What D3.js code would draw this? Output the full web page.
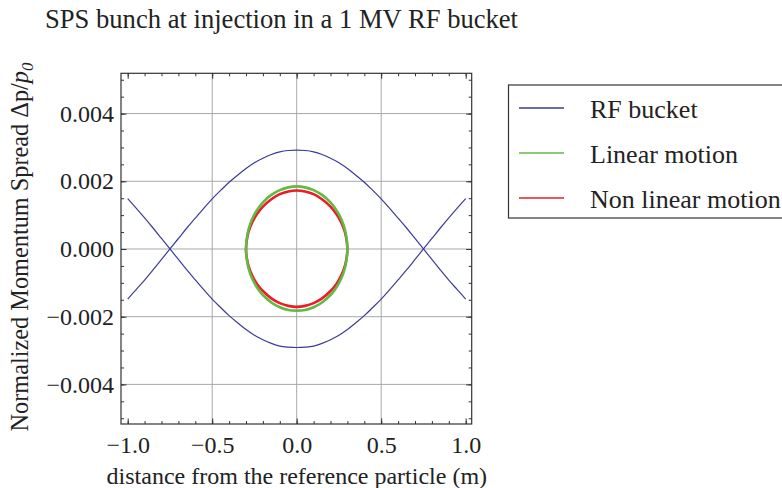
<!DOCTYPE html>
<html>
<head>
<meta charset="utf-8">
<script src="https://cdn.jsdelivr.net/npm/d3@7"></script>
<style>
  html, body { margin: 0; padding: 0; background: #fff; }
  svg { display: block; }
  text { font-family: "Liberation Serif", "Times New Roman", serif; fill: #222; }
</style>
</head>
<body>
<svg id="chart" width="782" height="488"></svg>
<script>
// ---------- data ----------
const titleText = "SPS bunch at injection in a 1 MV RF bucket";
const xLabelText = "distance from the reference particle (m)";

// RF bucket separatrix, sampled at these distances (m)
const bucketX = [-1.00, -0.95, -0.90, -0.85, -0.80, -0.75, -0.70, -0.65, -0.60, -0.55, -0.50,
                 -0.45, -0.40, -0.35, -0.30, -0.25, -0.20, -0.15, -0.10, -0.05, 0.00,
                 0.05, 0.10, 0.15, 0.20, 0.25, 0.30, 0.35, 0.40, 0.45, 0.50,
                 0.55, 0.60, 0.65, 0.70, 0.75, 0.80, 0.85, 0.90, 0.95, 1.00];
// branch peaking at the top (x 1e-3)
const bucketUpper = [-1.48, -1.20, -0.92, -0.62, -0.31, 0.00, 0.31, 0.62, 0.91, 1.20, 1.48,
                     1.73, 1.97, 2.18, 2.38, 2.55, 2.68, 2.79, 2.87, 2.91, 2.92,
                     2.91, 2.87, 2.79, 2.68, 2.55, 2.38, 2.18, 1.97, 1.73, 1.48,
                     1.20, 0.91, 0.62, 0.31, 0.00, -0.31, -0.62, -0.92, -1.20, -1.48];
// branch peaking at the bottom (x 1e-3)
const bucketLower = [1.49, 1.21, 0.92, 0.62, 0.31, 0.00, -0.31, -0.62, -0.91, -1.20, -1.48,
                     -1.73, -1.97, -2.18, -2.38, -2.55, -2.68, -2.79, -2.87, -2.90, -2.91,
                     -2.90, -2.87, -2.79, -2.68, -2.55, -2.38, -2.18, -1.97, -1.73, -1.48,
                     -1.20, -0.91, -0.62, -0.31, 0.00, 0.31, 0.62, 0.92, 1.21, 1.49];

// bunch contours sampled at these distances (m)
const bunchX = [-0.30, -0.29, -0.275, -0.25, -0.225, -0.20, -0.15, -0.10, -0.05, 0.00,
                0.05, 0.10, 0.15, 0.20, 0.225, 0.25, 0.275, 0.29, 0.30];
// Linear motion (x 1e-3)
const linearUpper = [0.00, 0.47, 0.74, 1.02, 1.22, 1.38, 1.60, 1.74, 1.82, 1.85,
                     1.82, 1.74, 1.60, 1.38, 1.22, 1.02, 0.74, 0.47, 0.00];
const linearLower = [0.00, -0.46, -0.73, -1.01, -1.21, -1.36, -1.58, -1.72, -1.80, -1.82,
                     -1.80, -1.72, -1.58, -1.36, -1.21, -1.01, -0.73, -0.46, 0.00];
// Non linear motion (x 1e-3)
const nonlinUpper = [0.00, 0.41, 0.65, 0.91, 1.10, 1.25, 1.47, 1.62, 1.70, 1.73,
                     1.70, 1.62, 1.47, 1.25, 1.10, 0.91, 0.65, 0.41, 0.00];
const nonlinLower = [0.00, -0.41, -0.65, -0.91, -1.10, -1.24, -1.46, -1.60, -1.68, -1.71,
                     -1.68, -1.60, -1.46, -1.24, -1.10, -0.91, -0.65, -0.41, 0.00];

// ticks
const xMajorTicks = [-1.0, -0.5, 0.0, 0.5, 1.0];
const xMinorTicks = [-1.0, -0.9, -0.8, -0.7, -0.6, -0.5, -0.4, -0.3, -0.2, -0.1, 0.0,
                     0.1, 0.2, 0.3, 0.4, 0.5, 0.6, 0.7, 0.8, 0.9, 1.0];
const xGrid = [-0.5, 0.0, 0.5];
const yMajorTicks = [-0.004, -0.002, 0.0, 0.002, 0.004];
const yMinorTicks = [-0.005, -0.0045, -0.004, -0.0035, -0.003, -0.0025, -0.002, -0.0015, -0.001, -0.0005, 0,
                     0.0005, 0.001, 0.0015, 0.002, 0.0025, 0.003, 0.0035, 0.004, 0.0045, 0.005];
const yGrid = [-0.004, -0.002, 0.0, 0.002, 0.004];

const legendNames = ["RF bucket", "Linear motion", "Non linear motion"];
const colors = { bucket: "#3b3b9c", linear: "#62ba44", nonlin: "#ec1c24" };

// ---------- layout ----------
const svg = d3.select("#chart");
const L = 121, R = 471.7, T = 73.3, B = 424;
const x = d3.scaleLinear().domain([-1.0396, 1.0355]).range([L, R]);
const y = d3.scaleLinear().domain([-0.00517, 0.00519]).range([B, T]);

// title
svg.append("text").attr("x", 45).attr("y", 28).attr("font-size", 26.6).text(titleText);

// grid
const grid = svg.append("g").attr("stroke", "#a8a8a8").attr("stroke-width", 1);
grid.selectAll("line.gx").data(xGrid).enter().append("line")
  .attr("x1", d => x(d)).attr("x2", d => x(d)).attr("y1", T).attr("y2", B);
grid.selectAll("line.gy").data(yGrid).enter().append("line")
  .attr("x1", L).attr("x2", R).attr("y1", d => y(d)).attr("y2", d => y(d));

// curves
svg.append("clipPath").attr("id", "plotclip").append("rect")
  .attr("x", L).attr("y", T).attr("width", R - L).attr("height", B - T);
const plot = svg.append("g").attr("clip-path", "url(#plotclip)");

const line = d3.line().x(d => x(d[0])).y(d => y(d[1] * 1e-3)).curve(d3.curveCatmullRom);
const closed = d3.line().x(d => x(d[0])).y(d => y(d[1] * 1e-3)).curve(d3.curveCatmullRomClosed);

function loop(upper, lower) {
  const pts = bunchX.map((xv, i) => [xv, upper[i]]);
  for (let i = bunchX.length - 2; i >= 1; i--) pts.push([bunchX[i], lower[i]]);
  return pts;
}

[bucketUpper, bucketLower].forEach(arr => {
  plot.append("path").datum(bucketX.map((xv, i) => [xv, arr[i]]))
    .attr("d", line).attr("fill", "none").attr("stroke", colors.bucket).attr("stroke-width", 1.2);
});
plot.append("path").datum(loop(nonlinUpper, nonlinLower))
  .attr("d", closed).attr("fill", "none").attr("stroke", colors.nonlin).attr("stroke-width", 2.6);
plot.append("path").datum(loop(linearUpper, linearLower))
  .attr("d", closed).attr("fill", "none").attr("stroke", colors.linear).attr("stroke-width", 2.6);

// axes (inward ticks, Mathematica-style frame)
function styleAxis(g) {
  g.select(".domain").remove();
  g.selectAll(".tick line").attr("stroke", "#333");
  g.selectAll("text").attr("font-size", 24).attr("fill", "#222")
    .attr("font-family", "'Liberation Serif', 'Times New Roman', serif");
}
const fx = d3.format(".1f"), fy = d3.format(".3f");
svg.append("g").attr("transform", `translate(0,${B})`)
  .call(d3.axisBottom(x).tickValues(xMinorTicks).tickSize(-3).tickFormat("")).call(styleAxis);
svg.append("g").attr("transform", `translate(0,${B})`)
  .call(d3.axisBottom(x).tickValues(xMajorTicks).tickSize(-5.5).tickPadding(12).tickFormat(fx)).call(styleAxis);
svg.append("g").attr("transform", `translate(0,${T})`)
  .call(d3.axisTop(x).tickValues(xMinorTicks).tickSize(-3).tickFormat("")).call(styleAxis);
svg.append("g").attr("transform", `translate(0,${T})`)
  .call(d3.axisTop(x).tickValues(xMajorTicks).tickSize(-5.5).tickFormat("")).call(styleAxis);
svg.append("g").attr("transform", `translate(${L},0)`)
  .call(d3.axisLeft(y).tickValues(yMinorTicks.filter(v => y(v) > T && y(v) < B)).tickSize(-3).tickFormat("")).call(styleAxis);
svg.append("g").attr("transform", `translate(${L},0)`)
  .call(d3.axisLeft(y).tickValues(yMajorTicks).tickSize(-5.5).tickPadding(7).tickFormat(fy)).call(styleAxis);
svg.append("g").attr("transform", `translate(${R},0)`)
  .call(d3.axisRight(y).tickValues(yMinorTicks.filter(v => y(v) > T && y(v) < B)).tickSize(-3).tickFormat("")).call(styleAxis);
svg.append("g").attr("transform", `translate(${R},0)`)
  .call(d3.axisRight(y).tickValues(yMajorTicks).tickSize(-5.5).tickFormat("")).call(styleAxis);

// frame
svg.append("rect").attr("x", L).attr("y", T).attr("width", R - L).attr("height", B - T)
  .attr("fill", "none").attr("stroke", "#333").attr("stroke-width", 1.2);

// axis labels
svg.append("text").attr("x", (L + R) / 2 + 0.5).attr("y", 484).attr("text-anchor", "middle")
  .attr("font-size", 24).text(xLabelText);

const yl = svg.append("text").attr("transform", "translate(28,247) rotate(-90)")
  .attr("text-anchor", "middle").attr("font-size", 24.3);
yl.append("tspan").text("Normalized Momentum Spread \u0394p/");
yl.append("tspan").attr("font-style", "italic").text("p");
yl.append("tspan").attr("font-style", "italic").attr("font-size", 17).attr("dy", 5).text("0");

// legend
const lg = svg.append("g");
lg.append("rect").attr("x", 508.5).attr("y", 85).attr("width", 320).attr("height", 133)
  .attr("fill", "#fff").attr("stroke", "#333").attr("stroke-width", 1.2);
const legendColors = [colors.bucket, colors.linear, colors.nonlin];
const rowY = d3.scalePoint().domain(legendNames).range([108, 198]);
legendNames.forEach((name, i) => {
  lg.append("line").attr("x1", 519).attr("x2", 564).attr("y1", rowY(name)).attr("y2", rowY(name))
    .attr("stroke", legendColors[i]).attr("stroke-width", 1.4);
  lg.append("text").attr("x", 590).attr("y", rowY(name) + 10).attr("font-size", 26).text(name);
});
</script>
</body>
</html>
